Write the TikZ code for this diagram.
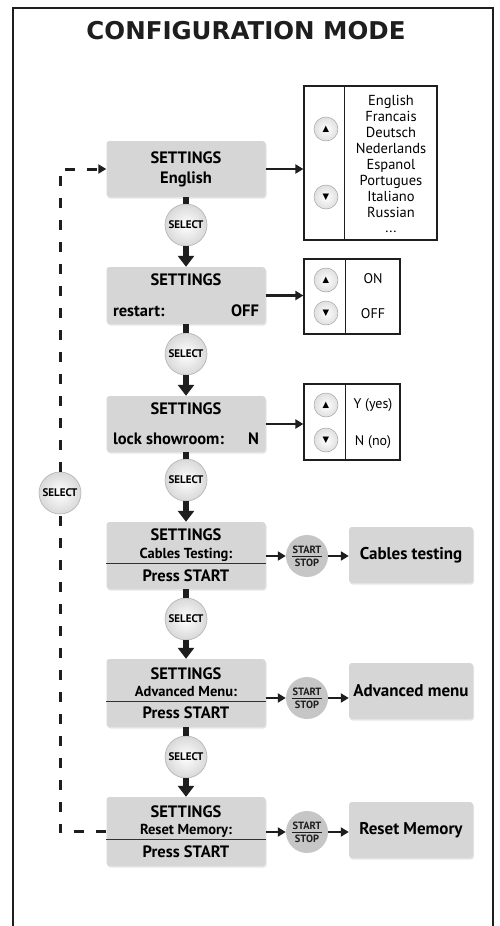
\documentclass[tikz,border=0pt]{standalone}
\usepackage{fontspec}
\setmainfont{PT Sans}
\newfontfamily\titlefont{DejaVu Sans}
\newfontfamily\symfont{DejaVu Sans}
\usetikzlibrary{arrows.meta}
\usetikzlibrary{shadows}
\definecolor{boxgray}{RGB}{214,214,214}
\definecolor{btngray}{RGB}{198,198,198}
\definecolor{inkblack}{RGB}{30,30,30}
\tikzset{settingsbox/.style = {fill=boxgray, rounded corners=3pt,
    minimum width=159pt, inner sep=0pt, align=center,
    drop shadow={opacity=0.2, shadow xshift=1pt, shadow yshift=-1.5pt},
    font=\bfseries\fontsize{16.5}{20}\selectfont}}
\tikzset{resultbox/.style = {fill=boxgray, rounded corners=3pt,
    minimum width=124pt, minimum height=56pt, inner sep=0pt,
    drop shadow={opacity=0.2, shadow xshift=1pt, shadow yshift=-1.5pt},
    font=\bfseries\fontsize{17}{20}\selectfont}}
\tikzset{optionbox/.style = {draw=inkblack, line width=1.2pt, fill=white, inner sep=0pt}}
\tikzset{updown/.style = {circle, minimum size=24pt, inner sep=0pt,
    draw=gray!70, line width=0.5pt, shading=radial,
    inner color=white, outer color=gray!25,
    font=\symfont\fontsize{8.5}{8.5}\selectfont}}
\tikzset{selectbtn/.style = {circle, minimum size=42pt, inner sep=0pt,
    draw=gray!60, line width=0.6pt, shading=radial,
    inner color=white, outer color=gray!30,
    font=\bfseries\fontsize{11}{11}\selectfont}}
\tikzset{startbtn/.style = {circle, minimum size=42pt, inner sep=0pt,
    fill=btngray, align=center, text=inkblack,
    font=\bfseries\fontsize{10.5}{10}\selectfont}}
\tikzset{optlabel/.style = {anchor=base, font=\fontsize{14}{16}\selectfont}}
\tikzset{stub/.style = {draw=inkblack, line width=6pt}}
\tikzset{flowdown/.style = {draw=inkblack, line width=6pt,
    -{Triangle[width=16pt,length=11pt]}}}
\tikzset{feed/.style = {draw=inkblack, line width=2.5pt,
    -{Triangle[width=9pt,length=8pt]}}}
\tikzset{loopback/.style = {draw=inkblack, line width=3pt,
    dash pattern=on 10pt off 12pt}}
\tikzset{divider/.style = {draw=gray!20!inkblack, line width=1pt}}

\begin{document}
\begin{tikzpicture}[x=1pt, y=-1pt]
  \useasboundingbox (0,0) rectangle (500,926);
  \fill[white] (0,0) rectangle (500,926);
  % frame and title
  \draw[inkblack, line width=2.2pt] (13,960) -- (13,8) -- (493,8) -- (493,960);
  \node[font=\titlefont\bfseries\fontsize{24.5}{28}\selectfont, text=inkblack]
    (title) at (246,31) {CONFIGURATION MODE};

  % settings column
  \node[settingsbox, minimum height=56pt] (lang) at (186,169) {SETTINGS\\English};
  \node[settingsbox, minimum height=57pt] (restart) at (186,295.5)
    {SETTINGS\\[11pt]\makebox[146pt]{restart:\hfill OFF}};
  \node[settingsbox, minimum height=56pt] (lock) at (186,424)
    {SETTINGS\\[10pt]\makebox[146pt]{lock showroom:\hfill N}};
  \node[settingsbox, minimum height=67pt] (cables) at (186,555.5)
    {SETTINGS\\[-2.5pt]{\fontsize{14.5}{16}\selectfont Cables Testing:}\\[3.5pt]Press START};
  \node[settingsbox, minimum height=68pt] (advanced) at (186,693)
    {SETTINGS\\[-3pt]{\fontsize{14.5}{16}\selectfont Advanced Menu:}\\[2pt]Press START};
  \node[settingsbox, minimum height=69pt] (reset) at (186,831.5)
    {SETTINGS\\[-3pt]{\fontsize{14.5}{16}\selectfont Reset Memory:}\\[3pt]Press START};
  \draw[divider] ([yshift=-7.5pt]cables.west) -- ([yshift=-7.5pt]cables.east);
  \draw[divider] ([yshift=-8pt]advanced.west) -- ([yshift=-8pt]advanced.east);
  \draw[divider] ([yshift=-7.5pt]reset.west) -- ([yshift=-7.5pt]reset.east);

  % select buttons
  \node[selectbtn] (sel1) at (186,225) {SELECT};
  \node[selectbtn] (sel2) at (186,354) {SELECT};
  \node[selectbtn] (sel3) at (186,480) {SELECT};
  \node[selectbtn] (sel4) at (186,619) {SELECT};
  \node[selectbtn] (sel5) at (186,757) {SELECT};
  \draw[stub] (lang.south) -- (sel1.north);
  \draw[flowdown] (sel1.south) -- (restart.north);
  \draw[stub] (restart.south) -- (sel2.north);
  \draw[flowdown] (sel2.south) -- (lock.north);
  \draw[stub] (lock.south) -- (sel3.north);
  \draw[flowdown] (sel3.south) -- (cables.north);
  \draw[stub] (cables.south) -- (sel4.north);
  \draw[flowdown] (sel4.south) -- (advanced.north);
  \draw[stub] (advanced.south) -- (sel5.north);
  \draw[flowdown] (sel5.south) -- (reset.north);

  % option boxes
  \node[optionbox, minimum width=133pt, minimum height=154pt] (langopt) at (370.5,163) {};
  \node[optionbox, minimum width=96pt, minimum height=75pt] (restartopt) at (352,296.5) {};
  \node[optionbox, minimum width=96pt, minimum height=76pt] (lockopt) at (352,422) {};
  \draw[inkblack, line width=1.2pt] ([xshift=41pt]langopt.north west) -- ([xshift=41pt]langopt.south west);
  \draw[inkblack, line width=1.2pt] ([xshift=42pt]restartopt.north west) -- ([xshift=42pt]restartopt.south west);
  \draw[inkblack, line width=1.2pt] ([xshift=42pt]lockopt.north west) -- ([xshift=42pt]lockopt.south west);
  \node[updown] (langup) at (326,129) {▲};
  \node[updown] (langdown) at (326,197) {▼};
  \node[updown] (restartup) at (326,280) {▲};
  \node[updown] (restartdown) at (326,313) {▼};
  \node[updown] (lockup) at (326,405) {▲};
  \node[updown] (lockdown) at (326,440) {▼};
  \node[align=center, font=\fontsize{14.5}{15.9}\selectfont] (langlist) at (391,164.3)
    {English\\Francais\\Deutsch\\Nederlands\\Espanol\\Portugues\\Italiano\\Russian\\...};
  \node[optlabel] (on) at (373,283) {ON};
  \node[optlabel] (off) at (373,318) {OFF};
  \node[optlabel] (yes) at (373,408) {Y (yes)};
  \node[optlabel] (no) at (373,445) {N (no)};
  \draw[feed] (lang.east) -- (lang.east -| langopt.west);
  \draw[feed] (restart.east) -- (restart.east -| restartopt.west);
  \draw[feed] (lock.east) -- (lock.east -| lockopt.west);

  % start/stop actions
  \node[startbtn] (ss1) at (307,556) {START\\[-6pt]\rule{30pt}{1.2pt}\\[-1pt]STOP};
  \node[startbtn] (ss2) at (307,698) {START\\[-6pt]\rule{30pt}{1.2pt}\\[-1pt]STOP};
  \node[startbtn] (ss3) at (307,832) {START\\[-6pt]\rule{30pt}{1.2pt}\\[-1pt]STOP};
  \node[resultbox] (res1) at (411,555) {Cables testing};
  \node[resultbox] (res2) at (411,691) {Advanced menu};
  \node[resultbox] (res3) at (411,830) {Reset Memory};
  \draw[feed] (cables.east |- ss1.west) -- (ss1.west);
  \draw[feed] (ss1.east) -- (ss1.east -| res1.west);
  \draw[feed] (advanced.east |- ss2.west) -- (ss2.west);
  \draw[feed] (ss2.east) -- (ss2.east -| res2.west);
  \draw[feed] (reset.east |- ss3.west) -- (ss3.west);
  \draw[feed] (ss3.east) -- (ss3.east -| res3.west);

  % way back to the top
  \node[selectbtn] (selback) at (60,493) {SELECT};
  \draw[loopback] (reset.west) -| (selback.south);
  \draw[loopback, -{Triangle[width=9pt,length=8pt]}] (selback.north) |- (lang.west);
\end{tikzpicture}
\end{document}
